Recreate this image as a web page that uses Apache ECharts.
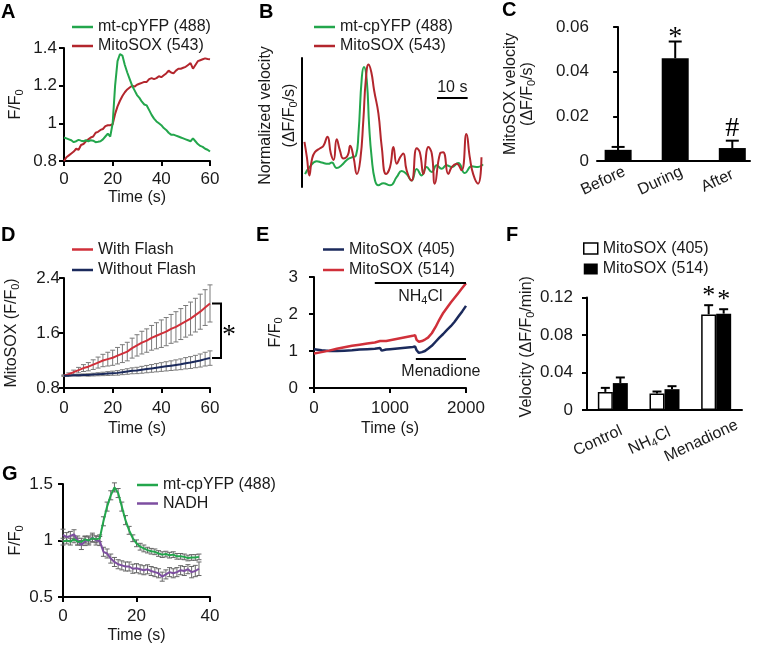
<!DOCTYPE html>
<html><head><meta charset="utf-8">
<script src="https://cdn.jsdelivr.net/npm/echarts@6/dist/echarts.min.js"></script>
<style>html,body{margin:0;padding:0;background:#fff}#c{width:758px;height:648px}</style>
</head><body><div id="c"></div>
<script>
// ---------- DATA ----------
// Panel A
const aTime = [0,1,2,3,4,5,6,7,8,9,10,11,12,13,14,15,16,17,18,19,20,21,22,23,24,25,26,27,28,29,30,31,32,33,34,35,36,37,38,39,40,41,42,43,44,45,46,47,48,49,50,51,52,53,54,55,56,57,58,59,60];
const aGreen = [0.925,0.92,0.915,0.91,0.90,0.905,0.912,0.908,0.905,0.91,0.905,0.91,0.908,0.90,0.902,0.905,0.915,0.93,0.945,0.93,1.0,1.2,1.33,1.368,1.36,1.31,1.27,1.235,1.20,1.175,1.15,1.135,1.115,1.10,1.095,1.07,1.045,1.025,1.01,1.0,0.99,0.975,0.965,0.95,0.94,0.94,0.935,0.93,0.925,0.92,0.915,0.91,0.905,0.92,0.905,0.89,0.88,0.875,0.865,0.86,0.85];
const aRed = [0.80,0.82,0.83,0.84,0.85,0.865,0.86,0.885,0.89,0.905,0.915,0.925,0.93,0.95,0.955,0.965,0.97,0.985,0.99,0.99,0.995,1.05,1.09,1.12,1.145,1.165,1.18,1.19,1.20,1.195,1.205,1.21,1.215,1.22,1.22,1.235,1.24,1.235,1.24,1.25,1.245,1.255,1.265,1.28,1.27,1.265,1.28,1.29,1.29,1.295,1.30,1.31,1.32,1.29,1.31,1.33,1.335,1.34,1.345,1.342,1.34];
// Panel B (normalized velocity)
const bGreenT = [1,2.5,4.8,6.4,8.6,9.7,11.3,12.9,14.6,16.2,17.6,18.4,19.5,20.2,21.1,21.9,22.7,23.8,24.9,26.5,28.7,30.9,32.5,34.1,35.7,37.4,39,40.6,42.3,43.9,45.5,47.1,48.8,50.9,53.1,55.3,57.4,59];
const bGreen = [0.10,0.155,0.20,0.19,0.18,0.19,0.147,0.168,0.21,0.23,0.245,0.41,0.85,0.93,0.83,0.47,0.23,0.05,0.013,0.03,0.013,0.078,0.124,0.10,0.05,0.14,0.09,0.155,0.116,0.168,0.142,0.168,0.155,0.186,0.108,0.160,0.155,0.176];
const bRedT = [0.8,1.6,2.4,3.2,4.2,5.9,7,8.3,9.4,10.3,11.3,12.4,13.5,14.9,15.7,16.8,17.9,19,20,20.8,21.7,22.6,23.5,24.9,26,27.4,28.7,29.8,30.9,32,33,34.1,35.7,37.4,38.4,39.6,41.2,42.3,43.3,45,46,47.7,48.8,50.4,52,53.6,54.7,55.8,57.4,58.5];
const bRed = [0.35,0.23,0.09,0.21,0.27,0.30,0.32,0.39,0.26,0.21,0.37,0.28,0.22,0.245,0.32,0.23,0.10,0.21,0.52,0.83,0.95,0.89,0.75,0.57,0.31,0.10,0.155,0.31,0.18,0.23,0.26,0.13,0.05,0.30,0.27,0.10,0.31,0.26,0.026,0.26,0.27,0.10,0.155,0.18,0.13,0.41,0.23,0.10,0.026,0.23];
const scaleBarSpan = [44, 54];
const scaleBarLevel = 0.69;
// Panel C
const cCategories = ['Before', 'During', 'After'];
const cValues = [0.0050, 0.0460, 0.0058];
const cErrors = [0.0013, 0.0075, 0.0033];
const cMarks = ['', '*', '#'];
// Panel D
const dTime = [0,2,4,6,8,10,12,14,16,18,20,22,24,26,28,30,32,34,36,38,40,42,44,46,48,50,52,54,56,58,60];
const dRed = [0.98,1.00,1.03,1.06,1.09,1.11,1.14,1.17,1.20,1.22,1.24,1.27,1.30,1.33,1.38,1.42,1.46,1.49,1.53,1.56,1.59,1.62,1.66,1.69,1.73,1.77,1.81,1.86,1.91,1.97,2.03];
const dRedErr = [0.01,0.02,0.03,0.04,0.05,0.06,0.07,0.08,0.09,0.10,0.11,0.12,0.13,0.135,0.145,0.155,0.165,0.17,0.18,0.19,0.20,0.205,0.21,0.22,0.225,0.23,0.24,0.245,0.255,0.26,0.27];
const dNavy = [0.98,0.98,0.985,0.985,0.99,0.99,0.995,1.0,1.005,1.01,1.015,1.02,1.03,1.04,1.05,1.055,1.065,1.075,1.085,1.095,1.105,1.115,1.125,1.135,1.145,1.16,1.17,1.185,1.20,1.22,1.235];
const dNavyErr = [0.005,0.008,0.01,0.012,0.015,0.018,0.02,0.022,0.025,0.028,0.03,0.033,0.036,0.04,0.043,0.046,0.05,0.053,0.056,0.06,0.063,0.067,0.07,0.074,0.078,0.082,0.086,0.09,0.095,0.10,0.105];
// Panel E
const eTime = [0,100,200,300,400,500,600,700,800,870,890,950,1000,1100,1200,1300,1330,1350,1380,1420,1460,1500,1550,1600,1650,1700,1750,1800,1850,1900,1950,2000];
const eNavy = [1.05,1.02,1.00,1.00,1.01,1.02,1.04,1.05,1.06,1.08,1.01,1.04,1.05,1.07,1.09,1.11,1.12,1.02,0.95,0.97,1.00,1.06,1.14,1.25,1.36,1.46,1.57,1.67,1.79,1.93,2.07,2.22];
const eRed = [0.93,0.97,1.01,1.06,1.10,1.14,1.17,1.20,1.23,1.27,1.24,1.27,1.29,1.33,1.37,1.41,1.43,1.30,1.25,1.27,1.31,1.36,1.48,1.65,1.85,2.03,2.17,2.31,2.44,2.57,2.70,2.83];
const nh4clSpan = [800, 2000];
const nh4clLevel = 2.85;
const menadioneSpan = [1340, 2000];
const menadioneLevel = 0.8;
// Panel F
const fCategories = ['Control', 'NH4Cl', 'Menadione'];
const f405 = [0.0193, 0.0176, 0.102];
const f405Err = [0.0043, 0.0021, 0.0098];
const f514 = [0.0287, 0.0222, 0.1028];
const f514Err = [0.006, 0.0032, 0.0047];
const fMarks = ['', '', '*'];
// Panel G
const gTime = [0,1,2,3,4,5,6,7,8,9,10,11,12,13,14,15,16,17,18,19,20,21,22,23,24,25,26,27,28,29,30,31,32,33,34,35,36,37];
const gGreen = [0.99,1.0,0.99,1.01,0.99,0.99,1.01,1.0,1.02,1.01,1.02,1.17,1.30,1.40,1.47,1.42,1.30,1.18,1.09,1.02,0.975,0.945,0.93,0.915,0.905,0.90,0.885,0.875,0.88,0.87,0.875,0.86,0.86,0.855,0.845,0.85,0.85,0.855];
const gGreenErr = [0.03,0.03,0.03,0.03,0.03,0.03,0.03,0.03,0.03,0.03,0.03,0.04,0.04,0.04,0.04,0.04,0.04,0.04,0.035,0.03,0.03,0.03,0.03,0.025,0.025,0.025,0.025,0.025,0.025,0.025,0.025,0.025,0.025,0.025,0.025,0.025,0.025,0.025];
const gNadh = [1.05,1.03,1.04,1.055,1.0,0.96,0.995,1.0,1.025,1.0,0.995,0.90,0.885,0.84,0.81,0.79,0.78,0.77,0.77,0.75,0.755,0.745,0.737,0.745,0.73,0.72,0.71,0.68,0.70,0.72,0.71,0.72,0.737,0.73,0.746,0.72,0.73,0.75];
const gNadhErr = [0.05,0.04,0.04,0.04,0.04,0.04,0.04,0.04,0.04,0.04,0.04,0.04,0.04,0.04,0.04,0.04,0.04,0.04,0.04,0.04,0.04,0.04,0.04,0.04,0.04,0.04,0.04,0.04,0.04,0.04,0.04,0.04,0.04,0.04,0.04,0.05,0.05,0.06];

// ---------- STYLE ----------
const FONT = "'Liberation Sans', Arial, Helvetica, sans-serif";
const SERIF = "'Liberation Serif', 'Times New Roman', serif";
const TXT = '#1a1a1a';
const RICH = { sub: { fontSize: 11, padding: [8, 0, 0, 0], fontFamily: FONT, color: TXT } };
const GREEN = '#23a64c', DRED = '#b3262d', RED = '#d0303a', NAVY = '#1b2a5c', PURPLE = '#7d4ea0', GRAY = '#7a7a7a';

function merge(a, b) {
  const o = Object.assign({}, a);
  for (const k in b) {
    if (b[k] && typeof b[k] === 'object' && !Array.isArray(b[k]) && a[k] && typeof a[k] === 'object' && !Array.isArray(a[k])) o[k] = merge(a[k], b[k]);
    else o[k] = b[k];
  }
  return o;
}
const baseAxis = {
  type: 'value',
  axisLine: { show: true, lineStyle: { color: '#000', width: 2 } },
  axisTick: { show: true, length: 5, lineStyle: { color: '#000', width: 2 } },
  axisLabel: { color: TXT, fontSize: 17, fontFamily: FONT, margin: 8, formatter: v => String(v) },
  splitLine: { show: false },
  nameLocation: 'middle',
  nameTextStyle: { color: TXT, fontSize: 16, fontFamily: FONT, rich: RICH }
};
function ax(gi, o) { return merge(merge(baseAxis, { gridIndex: gi }), o); }
const zip = (t, v) => t.map((x, i) => [x, v[i]]);
const zip3 = (t, v, e) => t.map((x, i) => [x, v[i], e[i]]);

function lineSeries(name, idx, data, color, extra) {
  return Object.assign({ type: 'line', name, xAxisIndex: idx, yAxisIndex: idx, data, showSymbol: false, symbol: 'none',
    lineStyle: { color, width: 2 }, itemStyle: { color }, silent: true, z: 3, animation: false }, extra || {});
}
function errorSeries(idx, data, o) {
  return {
    type: 'custom', xAxisIndex: idx, yAxisIndex: idx, data, z: o.z || 2, clip: false, silent: true, animation: false,
    renderItem: function (params, api) {
      const x = api.value(0), y = api.value(1), e = api.value(2);
      const c = api.coord([x, y]);
      const top = api.coord([x, y + e]);
      const bot = o.both ? api.coord([x, y - e]) : c;
      const cx = c[0] + (o.offset || 0);
      const hw = o.cap / 2;
      const style = { stroke: o.color, lineWidth: o.width };
      const ch = [
        { type: 'line', shape: { x1: cx, y1: top[1], x2: cx, y2: bot[1] }, style },
        { type: 'line', shape: { x1: cx - hw, y1: top[1], x2: cx + hw, y2: top[1] }, style }
      ];
      if (o.both) ch.push({ type: 'line', shape: { x1: cx - hw, y1: bot[1], x2: cx + hw, y2: bot[1] }, style });
      if (o.marks) {
        const m = o.marks[params.dataIndex];
        if (m) ch.push({ type: 'text', style: { text: m, x: cx, y: top[1] + (o.markDy[m] || 0), align: 'center', verticalAlign: 'middle',
          font: o.markFont, fill: '#000' } });
      }
      return { type: 'group', children: ch };
    }
  };
}
function lineLegend(left, top, gap, names) {
  return { left, top, padding: 0, orient: 'vertical', icon: 'rect', itemWidth: 21, itemHeight: 2.5, itemGap: gap, data: names,
    selectedMode: false, formatter: n => n.split('|')[1],
    textStyle: { fontSize: 16, lineHeight: 16, color: TXT, fontFamily: FONT } };
}

const grids = [
  { left: 64, top: 48, width: 146, height: 113 },   // A
  { left: 302, top: 58, width: 181, height: 129 },  // B
  { left: 597, top: 27, width: 153, height: 134 },  // C
  { left: 64, top: 278, width: 146, height: 110 },  // D
  { left: 314, top: 277, width: 152, height: 111 }, // E
  { left: 587, top: 297.5, width: 155, height: 112.5 }, // F
  { left: 63, top: 484, width: 147, height: 113 }   // G
];

const xAxes = [
  ax(0, { min: 0, max: 60, interval: 20, name: 'Time (s)', nameGap: 29, axisLabel: { margin: 10 } }),
  { type: 'value', gridIndex: 1, min: 0, max: 59, show: false },
  ax(2, { min: -0.37, max: 2.31, axisTick: { show: false },
    axisLabel: { customValues: [0, 1, 2], formatter: v => cCategories[Math.round(v)] || '', fontSize: 16, rotate: 25, align: 'center', verticalAlign: 'middle', margin: 13, padding: [0, 33, 0, 0] } }),
  ax(3, { min: 0, max: 60, interval: 20, name: 'Time (s)', nameGap: 33, axisLabel: { margin: 12 } }),
  ax(4, { min: 0, max: 2000, interval: 1000, name: 'Time (s)', nameGap: 33, axisLabel: { margin: 12 } }),
  ax(5, { type: 'category', data: fCategories, axisTick: { show: false },
    axisLabel: { interval: 0, formatter: v => v.replace('NH4Cl', 'NH{sub|4}Cl'), rich: RICH, fontSize: 16, rotate: 25, align: 'center', verticalAlign: 'middle', margin: 24, padding: [0, 33, 0, 0] } }),
  ax(6, { min: 0, max: 40, interval: 20, name: 'Time (s)', nameGap: 31, axisLabel: { margin: 11 } })
];
const yAxes = [
  ax(0, { min: 0.8, max: 1.4, interval: 0.2, name: 'F/F{sub|0}', nameGap: 39, axisLabel: { margin: 7 } }),
  ax(1, { min: 0, max: 1, axisTick: { show: false }, axisLabel: { show: false }, name: 'Normalized velocity\n(\u0394F/F{sub|0}/s)', nameGap: 0,
    nameTextStyle: { lineHeight: 24, padding: [0, 0, 0, 14] } }),
  ax(2, { min: 0, max: 0.06, interval: 0.02, name: 'MitoSOX velocity\n(\u0394F/F{sub|0}/s)', nameGap: 61, nameTextStyle: { lineHeight: 17 }, axisLabel: { margin: 8 } }),
  ax(3, { min: 0.8, max: 2.4, interval: 0.8, name: 'MitoSOX (F/F{sub|0})', nameGap: 43, axisLabel: { margin: 4 } }),
  ax(4, { min: 0, max: 3, interval: 1, name: 'F/F{sub|0}', nameGap: 29, axisLabel: { margin: 16 } }),
  ax(5, { min: 0, max: 0.12, interval: 0.04, name: 'Velocity (\u0394F/F{sub|0}/min)', nameGap: 45, nameTextStyle: { padding: [0, 0, 0, 14] }, axisLabel: { margin: 14 } }),
  ax(6, { min: 0.5, max: 1.5, interval: 0.5, name: 'F/F{sub|0}', nameGap: 38, axisLabel: { margin: 10 } })
];

const series = [
  // A
  lineSeries('A|MitoSOX (543)', 0, zip(aTime, aRed), DRED),
  lineSeries('A|mt-cpYFP (488)', 0, zip(aTime, aGreen), GREEN),
  // B
  lineSeries('B|mt-cpYFP (488)', 1, zip(bGreenT, bGreen), GREEN, { smooth: 0.5 }),
  lineSeries('B|MitoSOX (543)', 1, zip(bRedT, bRed), DRED, { smooth: 0.5,
    markLine: { silent: true, symbol: ['none', 'none'], animation: false,
      lineStyle: { color: '#000', width: 2, type: 'solid' },
      label: { position: 'insideMiddleTop', distance: 2, formatter: '10 s', fontSize: 16, color: TXT, fontFamily: FONT },
      data: [[{ coord: [scaleBarSpan[0], scaleBarLevel] }, { coord: [scaleBarSpan[1], scaleBarLevel] }]] } }),
  // C
  { type: 'bar', xAxisIndex: 2, yAxisIndex: 2, data: cValues.map((v, i) => [i, v]), barWidth: 27, itemStyle: { color: '#000' }, silent: true, animation: false },
  errorSeries(2, cValues.map((v, i) => [i, v, cErrors[i]]), { cap: 13, color: '#000', width: 2, both: false, marks: cMarks,
    markFont: '28px ' + SERIF, markDy: { '*': -4, '#': -12 } }),
  // D
  errorSeries(3, zip3(dTime, dRed, dRedErr), { cap: 5, color: GRAY, width: 1, both: true }),
  errorSeries(3, zip3(dTime, dNavy, dNavyErr), { cap: 5, color: GRAY, width: 1, both: true }),
  lineSeries('D|With Flash', 3, zip(dTime, dRed), RED),
  lineSeries('D|Without Flash', 3, zip(dTime, dNavy), NAVY),
  { type: 'custom', xAxisIndex: 3, yAxisIndex: 3, clip: false, silent: true, z: 4, animation: false,
    data: [[dTime[dTime.length - 1], dRed[dRed.length - 1], dNavy[dNavy.length - 1]]],
    renderItem: function (params, api) {
      const p1 = api.coord([api.value(0), api.value(1)]);
      const p2 = api.coord([api.value(0), api.value(2)]);
      const x0 = p1[0] + 2, x1 = p1[0] + 11;
      return { type: 'group', children: [
        { type: 'polyline', shape: { points: [[x0, p1[1]], [x1, p1[1]], [x1, p2[1]], [x0, p2[1]]] }, style: { stroke: '#000', lineWidth: 2, fill: null } },
        { type: 'text', style: { text: '*', x: x1 + 1, y: (p1[1] + p2[1]) / 2 + 5, align: 'left', verticalAlign: 'middle', font: '28px ' + SERIF, fill: '#000' } }
      ] };
    } },
  // E
  lineSeries('E|MitoSOX (405)', 4, zip(eTime, eNavy), NAVY, { lineStyle: { color: NAVY, width: 2.5 },
    markLine: { silent: true, symbol: ['none', 'none'], animation: false,
      lineStyle: { color: '#000', width: 2, type: 'solid' },
      label: { position: 'insideMiddleBottom', distance: 5, fontSize: 16, color: TXT, fontFamily: FONT, rich: RICH },
      data: [
        [{ coord: [nh4clSpan[0], nh4clLevel], label: { formatter: 'NH{sub|4}Cl' } }, { coord: [nh4clSpan[1], nh4clLevel] }],
        [{ coord: [menadioneSpan[0], menadioneLevel], label: { formatter: 'Menadione' } }, { coord: [menadioneSpan[1], menadioneLevel] }]
      ] } }),
  lineSeries('E|MitoSOX (514)', 4, zip(eTime, eRed), RED, { lineStyle: { color: RED, width: 2.5 } }),
  // F
  { type: 'bar', name: 'F|MitoSOX (405)', xAxisIndex: 5, yAxisIndex: 5, data: f405, barWidth: 15, barGap: '0%',
    itemStyle: { color: '#fff', borderColor: '#000', borderWidth: 1.5 }, silent: true, animation: false },
  { type: 'bar', name: 'F|MitoSOX (514)', xAxisIndex: 5, yAxisIndex: 5, data: f514, barWidth: 15, barGap: '0%',
    itemStyle: { color: '#000' }, silent: true, animation: false },
  errorSeries(5, f405.map((v, i) => [i, v, f405Err[i]]), { cap: 9, color: '#000', width: 2, both: false, offset: -7.5, marks: fMarks,
    markFont: '26px ' + SERIF, markDy: { '*': -9 } }),
  errorSeries(5, f514.map((v, i) => [i, v, f514Err[i]]), { cap: 9, color: '#000', width: 2, both: false, offset: 7.5, marks: fMarks,
    markFont: '26px ' + SERIF, markDy: { '*': -9 } }),
  // G
  errorSeries(6, zip3(gTime, gGreen, gGreenErr), { cap: 5, color: '#666', width: 1, both: true }),
  errorSeries(6, zip3(gTime, gNadh, gNadhErr), { cap: 5, color: '#666', width: 1, both: true }),
  lineSeries('G|NADH', 6, zip(gTime, gNadh), PURPLE),
  lineSeries('G|mt-cpYFP (488)', 6, zip(gTime, gGreen), GREEN)
];

const legends = [
  lineLegend(72, 19, 3, ['A|mt-cpYFP (488)', 'A|MitoSOX (543)']),
  lineLegend(314, 19, 3, ['B|mt-cpYFP (488)', 'B|MitoSOX (543)']),
  lineLegend(72, 241.5, 4.5, ['D|With Flash', 'D|Without Flash']),
  lineLegend(323, 241.5, 4.5, ['E|MitoSOX (405)', 'E|MitoSOX (514)']),
  { left: 583, top: 240.5, padding: 0, orient: 'vertical', icon: 'rect', itemWidth: 14, itemHeight: 11, itemGap: 4.5, selectedMode: false,
    formatter: n => n.split('|')[1], textStyle: { fontSize: 16, lineHeight: 16, color: TXT, fontFamily: FONT },
    data: [{ name: 'F|MitoSOX (405)', itemStyle: { color: '#fff', borderColor: '#000', borderWidth: 1.5 } },
           { name: 'F|MitoSOX (514)', itemStyle: { color: '#000' } }] },
  lineLegend(137, 477, 2.5, ['G|mt-cpYFP (488)', 'G|NADH'])
];

const panelLetters = [['A', 1, 2], ['B', 259, 2], ['C', 502, 0], ['D', 1, 225], ['E', 256, 225], ['F', 506, 225], ['G', 2, 464]];

const chart = echarts.init(document.getElementById('c'), null, { renderer: 'canvas' });
chart.setOption({
  animation: false,
  backgroundColor: '#fff',
  textStyle: { fontFamily: FONT },
  grid: grids,
  xAxis: xAxes,
  yAxis: yAxes,
  legend: legends,
  series: series,
  graphic: panelLetters.map(p => ({ type: 'text', left: p[1], top: p[2], silent: true,
    style: { text: p[0], font: 'bold 20px ' + FONT, fill: '#000' } }))
});
</script></body></html>
